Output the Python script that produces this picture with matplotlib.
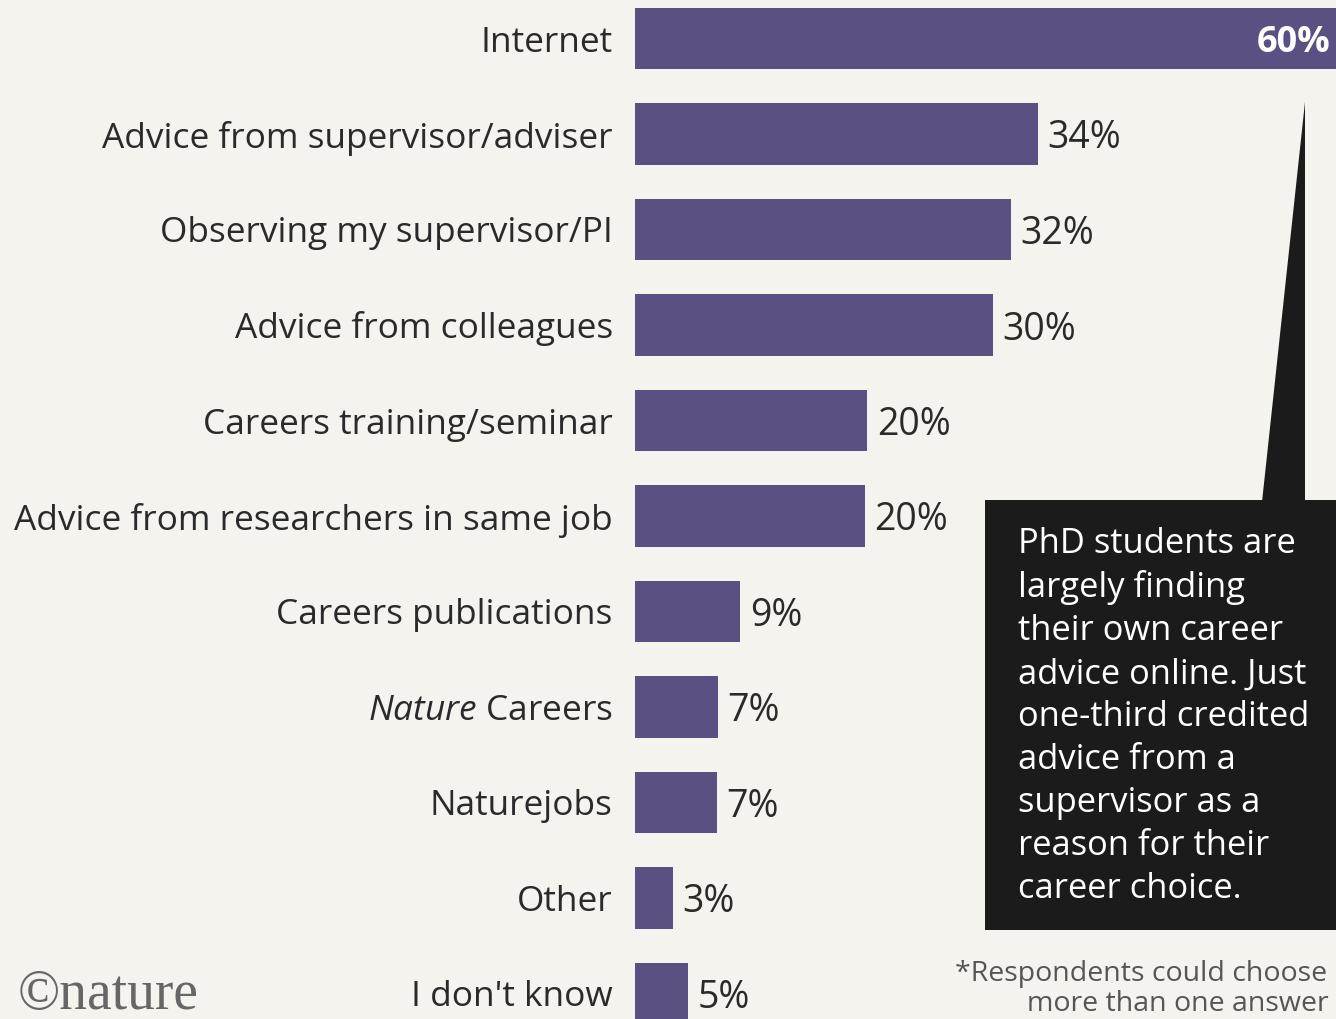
import matplotlib.pyplot as plt
from matplotlib.patches import Rectangle, Polygon

plt.rcParams['font.family'] = ['Open Sans', 'DejaVu Sans']
plt.rcParams['mathtext.fontset'] = 'custom'
plt.rcParams['mathtext.it'] = 'Open Sans:italic'
plt.rcParams['mathtext.rm'] = 'Open Sans'

# Data (bar lengths, labels as printed)
categories = ['Internet', 'Advice from supervisor/adviser', 'Observing my supervisor/PI',
              'Advice from colleagues', 'Careers training/seminar',
              'Advice from researchers in same job', 'Careers publications',
              r'$\it{Nature}$ Careers', 'Naturejobs', 'Other', "I don't know"]
values = [60, 34, 31.7, 30.2, 19.6, 19.4, 8.9, 7.0, 6.9, 3.2, 4.5]
value_labels = ['60%', '34%', '32%', '30%', '20%', '20%', '9%', '7%', '7%', '3%', '5%']

note = ("PhD students are\nlargely finding\ntheir own career\nadvice online. Just\n"
        "one-third credited\nadvice from a\nsupervisor as a\nreason for their\ncareer choice.")

bg = '#f4f3ee'
bar_color = '#5a5081'
txt = '#2a2a2a'
W, H = 1336, 1019

fig = plt.figure(figsize=(W / 100, H / 100), dpi=100, facecolor=bg)
# axes starts at bar origin; 60% spans ~711 px
ax = fig.add_axes([635 / W, 0, 711 / W, 1])
ax.set_facecolor('none')

ypos = list(range(len(categories)))
ax.barh(ypos, values, height=0.64, color=bar_color)
ax.set_xlim(0, 60)
ax.set_ylim((H - 38.5) / 95.5, -38.5 / 95.5)

ax.set_yticks(ypos, categories, fontsize=25.4, color=txt)
for t in ax.get_yticklabels():
    t.set_verticalalignment('center_baseline')
ax.tick_params(axis='y', length=0, pad=16)
ax.set_xticks([])
for s in ax.spines.values():
    s.set_visible(False)

for i, (v, lab) in enumerate(zip(values, value_labels)):
    if i == 0:
        ax.annotate(lab, (v, i), xytext=(-11, 0), textcoords='offset points',
                    ha='right', va='center_baseline', fontsize=26, color='white',
                    fontweight='bold')
    else:
        ax.annotate(lab, (v, i), xytext=(7, 0), textcoords='offset points',
                    ha='left', va='center_baseline', fontsize=27, color=txt)

# callout box and pointer
fig.add_artist(Rectangle((985 / W, 1 - 930 / H), (W - 985) / W, 430 / H,
                         transform=fig.transFigure, color='#1b1b1b', lw=0))
fig.add_artist(Polygon([(1262 / W, 1 - 502 / H), (1305 / W, 1 - 502 / H), (1305 / W, 1 - 102 / H)],
                       closed=True, transform=fig.transFigure, color='#1b1b1b', lw=0))
fig.text(1018 / W, 1 - 527 / H, note, color='white', fontsize=24.8, ha='left', va='top',
         linespacing=1.345)

fig.text(955 / W, 1 - 974 / H, '*Respondents could choose', fontsize=20.5, color='#555555',
         ha='left', va='center')
fig.text(1027 / W, 1 - 1004 / H, 'more than one answer', fontsize=20.5, color='#555555',
         ha='left', va='center')
fig.text(18 / W, 1 - 1009 / H, '©nature', family='Liberation Serif', fontsize=40,
         color='#666666', ha='left', va='baseline')

fig.savefig('out.png', dpi=100, facecolor=bg)
